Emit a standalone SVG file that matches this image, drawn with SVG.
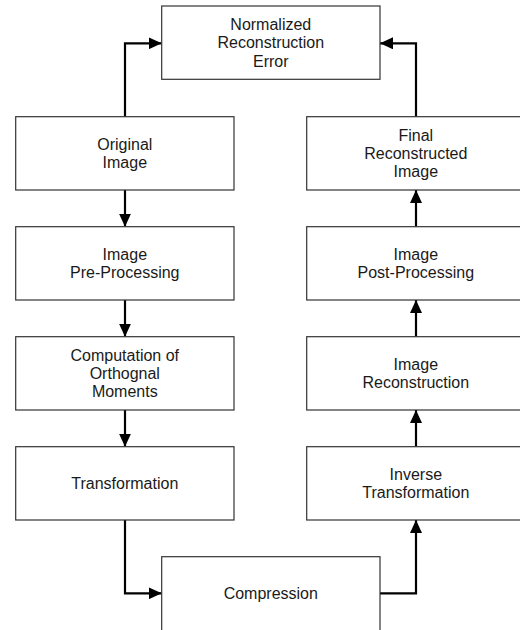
<svg xmlns="http://www.w3.org/2000/svg" width="520" height="630" viewBox="0 0 520 630">
<defs>
<style>
.box{fill:#fff;stroke:#333;stroke-width:1.2}
.t{font-family:"Liberation Sans",Arial,sans-serif;font-size:16px;fill:#1a1a1a;text-anchor:middle}
.c{fill:none;stroke:#000;stroke-width:2.2}
</style>
<marker id="ah" markerUnits="userSpaceOnUse" markerWidth="14" markerHeight="12" refX="13" refY="6" orient="auto">
<path d="M0,0 L13,6 L0,12 z" fill="#000"/>
</marker>
</defs>
<rect width="520" height="630" fill="#fff"/>
<g id="connectors">
<path class="c" d="M125,116.7 V43.3 H161.7" marker-end="url(#ah)"/>
<path class="c" d="M125,190 V226.7" marker-end="url(#ah)"/>
<path class="c" d="M125,300 V336.7" marker-end="url(#ah)"/>
<path class="c" d="M125,410 V446.7" marker-end="url(#ah)"/>
<path class="c" d="M125,520 V593.3 H161.7" marker-end="url(#ah)"/>
<path class="c" d="M379.5,593.3 H416 V520" marker-end="url(#ah)"/>
<path class="c" d="M416,446.7 V410" marker-end="url(#ah)"/>
<path class="c" d="M416,336.7 V300" marker-end="url(#ah)"/>
<path class="c" d="M416,226.7 V190" marker-end="url(#ah)"/>
<path class="c" d="M416,116.7 V43.3 H380" marker-end="url(#ah)"/>
</g>
<g id="error">
<rect class="box" x="161.7" y="6" width="218.3" height="73.3"/>
<text class="t" x="270.8" y="30">Normalized</text>
<text class="t" x="270.8" y="48.4">Reconstruction</text>
<text class="t" x="270.8" y="66.8">Error</text>
</g>
<g id="original">
<rect class="box" x="15.7" y="116.7" width="218.3" height="73.3"/>
<text class="t" x="124.8" y="149.6">Original</text>
<text class="t" x="124.8" y="168">Image</text>
</g>
<g id="preprocessing">
<rect class="box" x="15.7" y="226.7" width="218.3" height="73.3"/>
<text class="t" x="124.8" y="259.6">Image</text>
<text class="t" x="124.8" y="278">Pre-Processing</text>
</g>
<g id="moments">
<rect class="box" x="15.7" y="336.7" width="218.3" height="73.3"/>
<text class="t" x="124.8" y="360.6">Computation of</text>
<text class="t" x="124.8" y="379">Orthognal</text>
<text class="t" x="124.8" y="397.4">Moments</text>
</g>
<g id="transformation">
<rect class="box" x="15.7" y="446.7" width="218.3" height="73.3"/>
<text class="t" x="124.8" y="489">Transformation</text>
</g>
<g id="compression">
<rect class="box" x="161.7" y="556.7" width="218.3" height="80"/>
<text class="t" x="270.8" y="599">Compression</text>
</g>
<g id="inverse">
<rect class="box" x="306.7" y="446.7" width="218.3" height="73.3"/>
<text class="t" x="415.8" y="479.6">Inverse</text>
<text class="t" x="415.8" y="498">Transformation</text>
</g>
<g id="reconstruction">
<rect class="box" x="306.7" y="336.7" width="218.3" height="73.3"/>
<text class="t" x="415.8" y="369.6">Image</text>
<text class="t" x="415.8" y="388">Reconstruction</text>
</g>
<g id="postprocessing">
<rect class="box" x="306.7" y="226.7" width="218.3" height="73.3"/>
<text class="t" x="415.8" y="259.6">Image</text>
<text class="t" x="415.8" y="278">Post-Processing</text>
</g>
<g id="final">
<rect class="box" x="306.7" y="116.7" width="218.3" height="73.3"/>
<text class="t" x="415.8" y="140.6">Final</text>
<text class="t" x="415.8" y="159">Reconstructed</text>
<text class="t" x="415.8" y="177.4">Image</text>
</g>
</svg>
